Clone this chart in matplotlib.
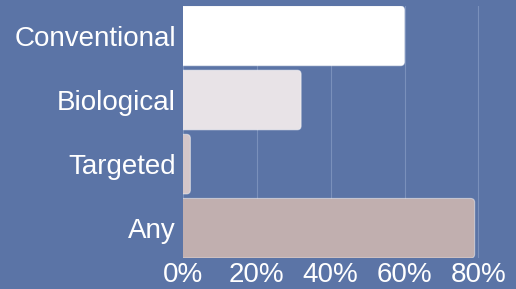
import matplotlib
matplotlib.use("Agg")
import matplotlib.pyplot as plt
from matplotlib.patches import FancyBboxPatch

categories = ["Conventional", "Biological", "Targeted", "Any"]
values = [60, 32, 2, 79]
colors = ["#ffffff", "#e8e3e7", "#d4c6c9", "#c1afaf"]
xticks = [0, 20, 40, 60, 80]
xticklabels = ["0%", "20%", "40%", "60%", "80%"]

bg = "#5b74a6"
plt.rcParams['font.family'] = ['Liberation Sans', 'DejaVu Sans']

fig = plt.figure(figsize=(5.16, 2.89), dpi=100)
fig.patch.set_facecolor(bg)
ax = fig.add_axes([0.3547, 0.107, 0.6453, 0.872])
ax.set_facecolor(bg)

xmax = 90.2
ylim = (3.465, -0.465)
ax.set_xlim(0, xmax)
ax.set_ylim(*ylim)

ypos = list(range(len(categories)))
bars = ax.barh(ypos, values, height=0.93, color=colors, zorder=3)

# convert bars to rounded boxes
axw_px = 0.6453 * 516
axh_px = 0.872 * 289
xu_per_px = xmax / axw_px
yu_per_px = abs(ylim[0] - ylim[1]) / axh_px
r = 4 * xu_per_px
aspect = yu_per_px / xu_per_px
for b, c in zip(bars, colors):
    x, y, w, h = b.get_x(), b.get_y(), b.get_width(), b.get_height()
    b.set_visible(False)
    p = FancyBboxPatch((x - r, y), w + r, h,
                       boxstyle=f"round,pad=0,rounding_size={r}",
                       mutation_aspect=aspect, facecolor=c,
                       edgecolor=(1, 1, 1, 0.45), linewidth=0.8, zorder=3)
    ax.add_patch(p)
    p.set_clip_path(ax.patch)

ax.set_yticks(ypos)
ax.set_yticklabels(categories, fontsize=20, color="white")
ax.set_xticks(xticks)
ax.set_xticklabels(xticklabels, fontsize=20, color="white")
ax.tick_params(axis="y", length=0, pad=5)
ax.tick_params(axis="x", length=0, pad=3)
ax.grid(axis="x", color="#7a90bb", linewidth=0.8, zorder=0)
for s in ax.spines.values():
    s.set_visible(False)

fig.savefig("out.png", dpi=100, facecolor=bg)
